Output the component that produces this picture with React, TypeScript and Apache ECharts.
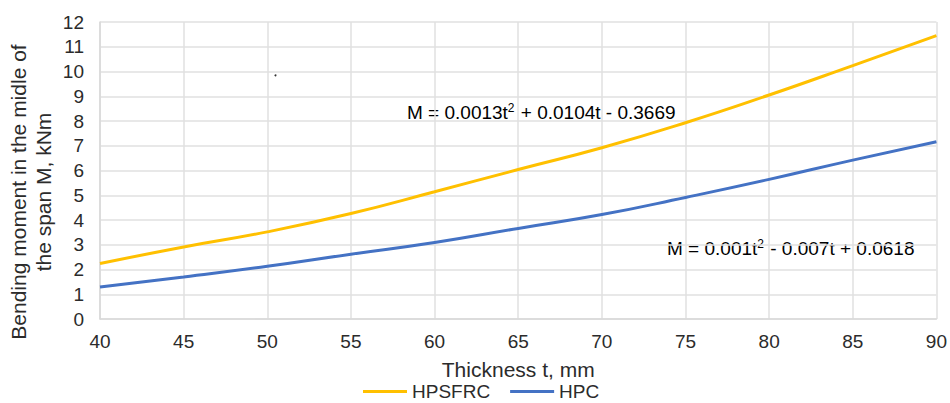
import React, { useEffect, useRef } from "react";
import * as echarts from "echarts";

const thickness = [40, 45, 50, 55, 60, 65, 70, 75, 80, 85, 90];
const hpsfrc = [2.24, 2.91, 3.52, 4.26, 5.14, 6.04, 6.92, 7.93, 9.05, 10.24, 11.45];
const hpc = [1.29, 1.70, 2.13, 2.62, 3.09, 3.66, 4.22, 4.91, 5.64, 6.42, 7.16];
const seriesNames = ["HPSFRC", "HPC"];
const eq1 = ["M = 0.0013t", "2", " + 0.0104t - 0.3669"];
const eq2 = ["M = 0.001t", "2", " - 0.007t + 0.0618"];
const yTitle = "Bending moment in the midle of\nthe span M, kNm";
const xTitle = "Thickness t, mm";

const FONT = "Arial, 'Liberation Sans', sans-serif";
const TXT = "#2b2b2b";

export default function App() {
  const ref = useRef<HTMLDivElement>(null);
  useEffect(() => {
    if (!ref.current) return;
    const chart = echarts.init(ref.current, undefined, { renderer: "svg" });
    const eqRich = {
      b: { fontSize: 19, fontFamily: FONT, color: TXT, lineHeight: 24, verticalAlign: "middle" },
      s: { fontSize: 12, fontFamily: FONT, color: TXT, lineHeight: 24, verticalAlign: "middle", padding: [0, 1, 9, 0] },
    };
    chart.setOption({
      animation: false,
      textStyle: { fontFamily: FONT },
      grid: { left: 100, right: 12, top: 22, bottom: 84 },
      legend: {
        left: 363,
        top: 382,
        padding: 0,
        icon: "rect",
        itemWidth: 44,
        itemHeight: 3,
        itemGap: 20,
        textStyle: { fontSize: 19, lineHeight: 19, color: TXT, fontFamily: FONT },
        data: seriesNames,
      },
      xAxis: {
        type: "value",
        min: 40,
        max: 90,
        interval: 5,
        name: xTitle,
        nameLocation: "middle",
        nameGap: 40,
        nameTextStyle: { fontSize: 21, color: TXT, fontFamily: FONT },
        axisLine: { show: true, lineStyle: { color: "#d9d9d9", width: 1.5 } },
        axisTick: { show: false },
        axisLabel: { fontSize: 19, color: TXT, margin: 13, fontFamily: FONT },
        splitLine: { show: true, lineStyle: { color: "#e0e0e0", width: 1.5 } },
      },
      yAxis: {
        type: "value",
        min: 0,
        max: 12,
        interval: 1,
        axisLine: { show: true, lineStyle: { color: "#d9d9d9", width: 1.5 } },
        axisTick: { show: false },
        axisLabel: { fontSize: 19, color: TXT, margin: 16, fontFamily: FONT },
        splitLine: { show: true, lineStyle: { color: "#e0e0e0", width: 1.5 } },
      },
      graphic: [
        {
          type: "text",
          x: 31,
          y: 192,
          rotation: Math.PI / 2,
          style: {
            text: yTitle,
            fontSize: 21,
            fontFamily: FONT,
            fill: TXT,
            align: "center",
            verticalAlign: "middle",
            lineHeight: 25,
          },
        },
        {
          type: "text",
          left: 407,
          top: 102,
          style: {
            text: `{b|${eq1[0]}}{s|${eq1[1]}}{b|${eq1[2]}}`,
            rich: eqRich,
          },
        },
        {
          type: "text",
          left: 667,
          top: 238,
          style: {
            text: `{b|${eq2[0]}}{s|${eq2[1]}}{b|${eq2[2]}}`,
            rich: eqRich,
          },
        },
        {
          type: "circle",
          shape: { cx: 275.5, cy: 75.3, r: 1 },
          style: { fill: "#333" },
        },
      ],
      series: [
        {
          name: seriesNames[0],
          type: "line",
          smooth: true,
          symbol: "none",
          data: thickness.map((t, i) => [t, hpsfrc[i]]),
          lineStyle: { color: "#FFC000", width: 3 },
          itemStyle: { color: "#FFC000" },
        },
        {
          name: seriesNames[1],
          type: "line",
          smooth: true,
          symbol: "none",
          data: thickness.map((t, i) => [t, hpc[i]]),
          lineStyle: { color: "#4472C4", width: 3 },
          itemStyle: { color: "#4472C4" },
        },
      ],
    });
    return () => chart.dispose();
  }, []);
  return (
    <div
      ref={ref}
      style={{ position: "absolute", left: 0, top: 0, width: 950, height: 403 }}
    />
  );
}
